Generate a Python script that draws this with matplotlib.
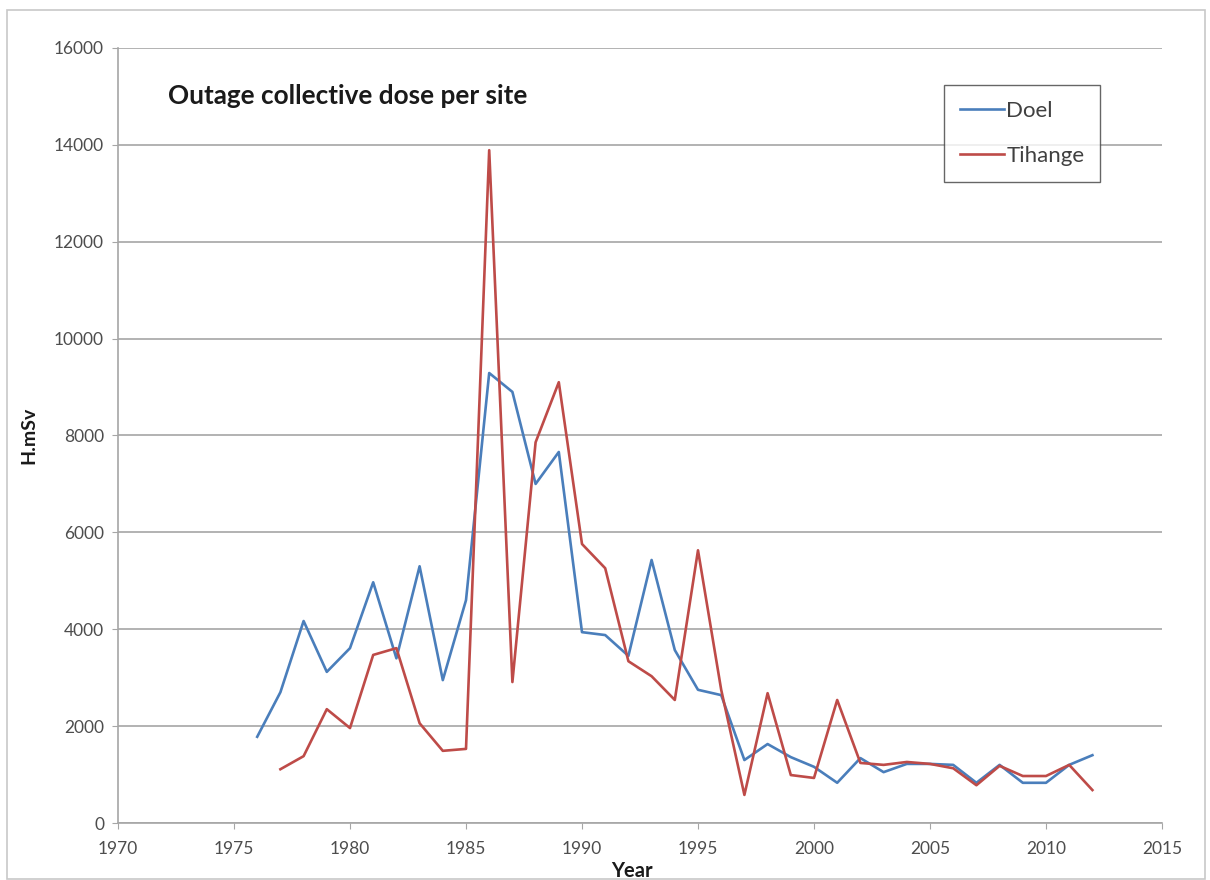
import matplotlib
matplotlib.use("Agg")
import matplotlib.pyplot as plt
from matplotlib.patches import Rectangle

plt.rcParams['font.family'] = ['Lato', 'DejaVu Sans']

doel_years = list(range(1976, 2013))
doel_values = [1780, 2700, 4170, 3120, 3610, 4970, 3400, 5300, 2950, 4600,
               9290, 8900, 7000, 7660, 3940, 3880, 3450, 5430, 3570, 2750,
               2640, 1300, 1630, 1360, 1160, 830, 1340, 1050, 1220, 1220,
               1200, 830, 1200, 830, 830, 1200, 1400]

tihange_years = list(range(1977, 2013))
tihange_values = [1110, 1380, 2350, 1960, 3470, 3610, 2060, 1490, 1530,
                  13890, 2910, 7860, 9100, 5760, 5260, 3340, 3030, 2540, 5630,
                  2750, 580, 2680, 990, 930, 2540, 1240, 1200, 1260, 1220,
                  1130, 780, 1180, 970, 970, 1200, 680]

x_ticks = list(range(1970, 2020, 5))
y_ticks = list(range(0, 18000, 2000))

W, H = 1210, 880
fig = plt.figure(figsize=(W / 100, H / 100), dpi=100)
fig.patch.set_facecolor('white')

# outer chart border
fig.add_artist(Rectangle((7 / W, 1 - 879 / H), (1205 - 7) / W, (879 - 10) / H,
                         transform=fig.transFigure, fill=False,
                         edgecolor='#c8c8c8', linewidth=1.2))

left, right, top, bottom = 118, 1162, 48, 823
ax = fig.add_axes([left / W, 1 - bottom / H, (right - left) / W, (bottom - top) / H])

ax.plot(doel_years, doel_values, color='#4A7EBB', linewidth=1.9, label='Doel')
ax.plot(tihange_years, tihange_values, color='#BE4B48', linewidth=1.9, label='Tihange')

ax.set_xlim(1970, 2015)
ax.set_ylim(0, 16000)
ax.set_xticks(x_ticks)
ax.set_yticks(y_ticks)
ax.yaxis.grid(True, color='#a6a6a6', linewidth=1.2)
ax.set_axisbelow(True)
for s in ['top', 'right']:
    ax.spines[s].set_visible(False)
for s in ['left', 'bottom']:
    ax.spines[s].set_color('#a6a6a6')
    ax.spines[s].set_linewidth(1.2)
ax.tick_params(axis='both', colors='#a6a6a6', labelcolor='#4d4d4d',
               labelsize=12.5, length=4, direction='out')
ax.tick_params(axis='y', pad=6)
ax.tick_params(axis='x', pad=9)

fig.text(632 / W, 1 - 871 / H, 'Year', fontsize=14.5, fontweight='bold',
         color='#1a1a1a', ha='center', va='center')
fig.text(29 / W, 1 - 435 / H, 'H.mSv', fontsize=14, fontweight='bold',
         color='#1a1a1a', ha='center', va='center', rotation=90)

fig.text(168 / W, 1 - 96 / H, 'Outage collective dose per site',
         fontsize=18.8, fontweight='bold', color='#1a1a1a', va='center', ha='left')

leg = ax.legend(loc='upper left', bbox_to_anchor=((944 - left) / (right - left),
                1 - (85 - top) / (bottom - top)),
                frameon=True, fancybox=False, edgecolor='#404040',
                fontsize=16, handlelength=2.0, labelspacing=1.15,
                borderpad=0.7, handletextpad=0.1, borderaxespad=0)
leg.get_frame().set_linewidth(1.0)
for t in leg.get_texts():
    t.set_color('#404040')

fig.savefig('out.png', dpi=100, facecolor='white')
